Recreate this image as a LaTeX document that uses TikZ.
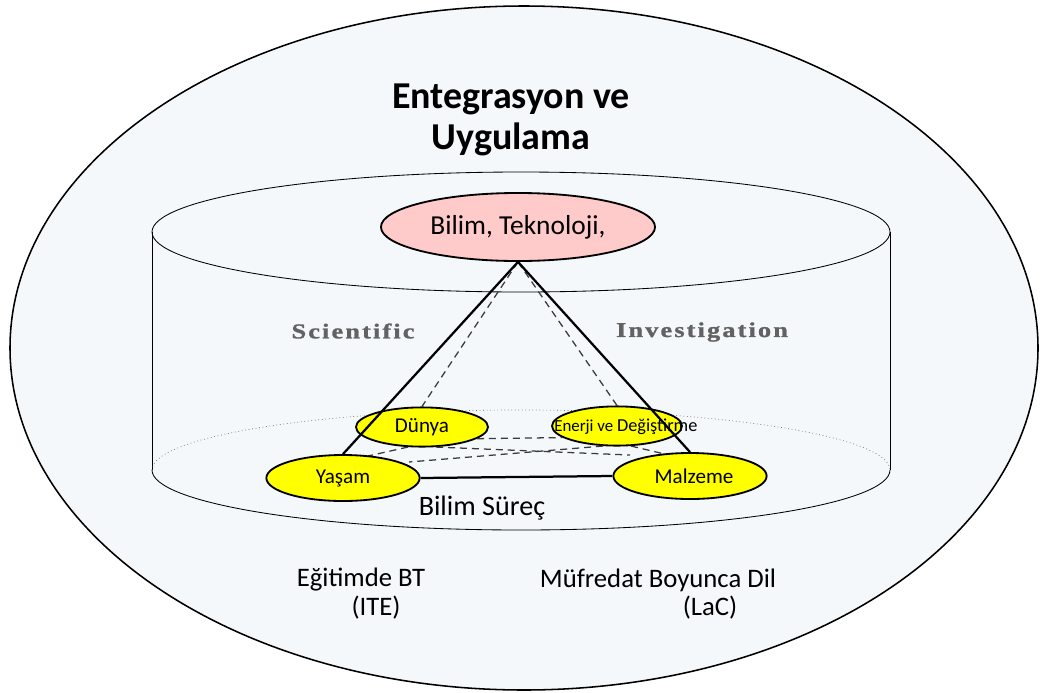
\documentclass[tikz,border=0pt]{standalone}
\usepackage{fontspec}
\setmainfont{Carlito}
\newfontfamily\spacedserif{Liberation Serif}[UprightFont=* Bold, LetterSpace=10, FakeStretch=1.25, FakeBold=1.2]
\usetikzlibrary{shapes.geometric}
\definecolor{bgc}{HTML}{F4F8FB}
\definecolor{pinkc}{HTML}{FFCACA}
\definecolor{yelc}{HTML}{FFFF00}
\definecolor{grayt}{HTML}{626262}
\definecolor{dashc}{HTML}{3A3A3A}
\tikzset{
  blob/.style={ellipse, draw=black, line width=1.3pt, inner sep=0pt},
  yel/.style={blob, fill=yelc, font=\fontsize{15}{17}\selectfont},
  edge/.style={line width=1.6pt, black},
  hid/.style={line width=0.9pt, dashc, dash pattern=on 5pt off 3.5pt},
  cyl/.style={line width=0.6pt, black},
  lbl/.style={font=\fontsize{19}{22}\selectfont, align=center},
  sci/.style={font=\spacedserif\fontsize{15}{17}\selectfont, text=grayt}
}
\begin{document}
\begin{tikzpicture}[x=0.025cm,y=-0.025cm]
\useasboundingbox (0,0) rectangle (1040,692);
\fill[white] (0,0) rectangle (1040,692);
% outer ellipse
\draw[line width=1.1pt, fill=bgc] (524,348) ellipse [x radius=514, y radius=342];
% cylinder
\draw[cyl] (152,232) -- (152,470);
\draw[cyl] (890,232) -- (890,470);
\draw[cyl] (521,232) ellipse [x radius=369, y radius=60];
\draw[cyl] (152,470) arc [start angle=180, end angle=360, x radius=369, y radius=-60];
\draw[line width=0.5pt, gray!80!black, dotted] (152,470) arc [start angle=180, end angle=0, x radius=369, y radius=-60];
% title
\node[font=\fontsize{27}{29.5}\selectfont\bfseries, align=center] (title) at (511,120) {Entegrasyon ve\\Uygulama};
% top node
\node[blob, fill=pinkc, minimum width=6.85cm, minimum height=1.7cm, font=\fontsize{19.5}{22}\selectfont] (btk) at (518,227) {Bilim, Teknoloji,};
% side labels
\node[sci] (sci) at (353,331) {Scientific};
\node[sci] (inv) at (702,332) {Investigation};
% back base nodes
\node[yel, minimum width=3.3cm, minimum height=0.98cm] (d) at (422,427) {Dünya};
\node[yel, minimum width=3.25cm, minimum height=0.98cm] (e) at (617,426) {};
% hidden edges
\draw[hid] (btk.south) -- (d.north);
\draw[hid] (btk.south) -- (e.north);
\draw[hid] (d.-12) -- (e.192);
\draw[hid] (d.-55) -- (630,455);
\draw[hid] (e.235) -- (409,462);
\draw[hid] (d.235) -- (368,456);
\draw[hid] (e.-55) -- (673,456);
% text of Enerji node
\node[anchor=west, inner sep=0pt] (etext) at (554,427) {\fontsize{12}{14}\selectfont Enerji ve \fontsize{13}{16}\selectfont Değiştirme};
% front base nodes
\node[yel, minimum width=3.83cm, minimum height=1.15cm] (y) at (343,478) {Yaşam\hspace{0.75cm}};
\node[yel, minimum width=3.83cm, minimum height=1.15cm] (m) at (690,476) {\hspace{0.2cm}Malzeme};
% solid edges
\draw[edge] (btk.south) -- (y.north);
\draw[edge] (btk.south) -- (m.north);
\draw[edge] (y.east) -- (m.west);
% bottom labels
\node[font=\fontsize{20}{22}\selectfont] (bs) at (482,508) {Bilim Süreç};
\node[lbl] (ite1) at (361,580) {Eğitimde BT};
\node[lbl] (ite2) at (376,608) {(ITE)};
\node[lbl] (lac1) at (658,580) {Müfredat Boyunca Dil};
\node[lbl] (lac2) at (710,608) {(LaC)};
\end{tikzpicture}
\end{document}
